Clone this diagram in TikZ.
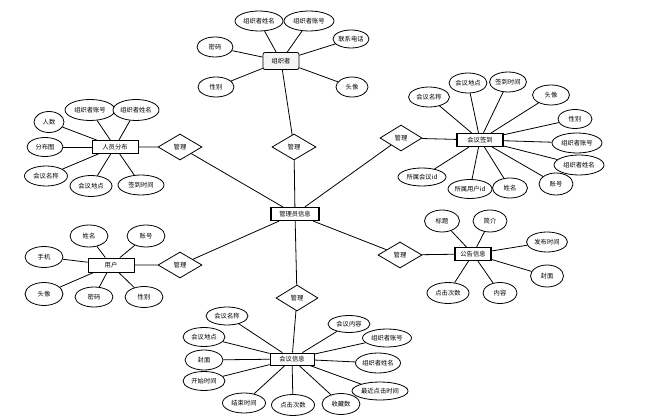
\documentclass[tikz,border=0pt]{standalone}
\usepackage{fontspec}
\newfontfamily\cjk{Noto Sans CJK SC}
\usetikzlibrary{shapes.geometric}
\begin{document}
\begin{tikzpicture}[x=1pt,y=-1pt,
  every node/.style={font=\cjk\fontsize{6.3}{7}\selectfont},
  attr/.style={ellipse, draw, line width=0.8pt, fill=white, inner sep=0pt, minimum height=20pt},
  ent/.style={rectangle, draw, line width=0.8pt, fill=white, inner sep=0pt, minimum height=13pt},
  entd/.style={ent, line width=1.1pt},
  rel/.style={diamond, draw, line width=0.8pt, fill=white, inner sep=0pt, aspect=1.65, minimum height=26pt},
  ln/.style={line width=0.8pt}]
\useasboundingbox (0,0) rectangle (666,419);
\fill[white] (0,0) rectangle (666,419);

% center
\node[entd, minimum width=48pt] (C) at (295,214) {管理员信息};

% top: 组织者
\node[ent, rounded corners=2pt, fill=gray!8, minimum width=36pt, minimum height=17pt] (Z) at (281,61) {组织者};
\node[rel, minimum width=44pt] (R1) at (294,147) {管理};
\node[attr, minimum width=48pt] (z1) at (259,21) {组织者姓名};
\node[attr, minimum width=50pt] (z2) at (309,21) {组织者账号};
\node[attr, minimum width=36pt, minimum height=18pt] (z3) at (351,39) {联系电话};
\node[attr, minimum width=32pt] (z4) at (352,87) {头像};
\node[attr, minimum width=36pt] (z5) at (215,47) {密码};
\node[attr, minimum width=36pt] (z6) at (216,87) {性别};
\foreach \a in {z1,z2,z3,z4,z5,z6} \draw[ln] (\a) -- (Z);
\draw[ln] (Z) -- (R1) -- (C);

% upper right: 会议签到
\node[entd, minimum width=46pt] (Q) at (480,140) {会议签到};
\node[rel, minimum width=42pt] (R2) at (401,138) {管理};
\node[attr, minimum width=41pt] (q1) at (429,97) {会议名称};
\node[attr, minimum width=38pt] (q2) at (468,83) {会议地点};
\node[attr, minimum width=37pt] (q3) at (508,82) {签到时间};
\node[attr, minimum width=37pt] (q4) at (551,95) {头像};
\node[attr, minimum width=34pt, minimum height=19pt] (q5) at (575,119) {性别};
\node[attr, minimum width=50pt] (q6) at (577,143) {组织者账号};
\node[attr, minimum width=50pt] (q7) at (579,165) {组织者姓名};
\node[attr, minimum width=34pt, minimum height=22pt] (q8) at (556,184) {账号};
\node[attr, minimum width=35pt] (q9) at (510,188) {姓名};
\node[attr, minimum width=44pt, minimum height=19pt] (q10) at (470,189) {所属用户id};
\node[attr, minimum width=48pt, minimum height=18pt] (q11) at (422,177) {所属会议id};
\foreach \a in {q1,q2,q3,q4,q5,q6,q7,q8,q9,q10,q11} \draw[ln] (\a) -- (Q);
\draw[ln] (Q) -- (R2) -- (C);

% upper left: 人员分布
\node[ent, minimum width=46pt] (P) at (115,147) {人员分布};
\node[rel, minimum width=44pt] (R3) at (180,147) {管理};
\node[attr, minimum width=30pt, minimum height=21pt] (p1) at (49,122) {人数};
\node[attr, minimum width=36pt, minimum height=19pt] (p2) at (45,147) {分布图};
\node[attr, minimum width=43pt] (p3) at (46,176) {会议名称};
\node[attr, minimum width=42pt, minimum height=21pt] (p4) at (91,186) {会议地点};
\node[attr, minimum width=46pt] (p5) at (141,185) {签到时间};
\node[attr, minimum width=50pt, minimum height=21pt] (p6) at (90,110) {组织者账号};
\node[attr, minimum width=46pt, minimum height=21pt] (p7) at (136,110) {组织者姓名};
\foreach \a in {p1,p2,p3,p4,p5,p6,p7} \draw[ln] (\a) -- (P);
\draw[ln] (P) -- (R3) -- (C);

% lower left: 用户
\node[ent, minimum width=46pt, minimum height=14pt] (U) at (111,265) {用户};
\node[rel, minimum width=44pt] (R4) at (180,265) {管理};
\node[attr, minimum width=38pt, minimum height=22pt] (u1) at (89,236) {姓名};
\node[attr, minimum width=38pt, minimum height=22pt] (u2) at (146,236) {账号};
\node[attr, minimum width=38pt, minimum height=21pt] (u3) at (44,257) {手机};
\node[attr, minimum width=38pt, minimum height=23pt] (u4) at (44,294) {头像};
\node[attr, minimum width=38pt] (u5) at (94,297) {密码};
\node[attr, minimum width=38pt, minimum height=21pt] (u6) at (144,297) {性别};
\foreach \a in {u1,u2,u3,u4,u5,u6} \draw[ln] (\a) -- (U);
\draw[ln] (U) -- (R4) -- (C);

% lower right: 公告信息
\node[entd, minimum width=36pt] (G) at (473,254) {公告信息};
\node[rel, minimum width=44pt] (R5) at (400,255) {管理};
\node[attr, minimum width=35pt, minimum height=22pt] (g1) at (442,221) {标题};
\node[attr, minimum width=34pt, minimum height=22pt] (g2) at (490,221) {简介};
\node[attr, minimum width=41pt] (g3) at (547,242) {发布时间};
\node[attr, minimum width=33pt, minimum height=22pt] (g4) at (547,276) {封面};
\node[attr, minimum width=42pt, minimum height=21pt] (g5) at (448,293) {点击次数};
\node[attr, minimum width=34pt, minimum height=21pt] (g6) at (500,293) {内容};
\foreach \a in {g1,g2,g3,g4,g5,g6} \draw[ln] (\a) -- (G);
\draw[ln] (G) -- (R5) -- (C);

% bottom: 会议信息
\node[ent, minimum width=44pt, minimum height=12pt] (M) at (292,359) {会议信息};
\node[rel, minimum width=42pt] (R6) at (297,298) {管理};
\node[attr, minimum width=42pt, minimum height=18pt] (m1) at (227,316) {会议名称};
\node[attr, minimum width=42pt, minimum height=19pt] (m2) at (204,337) {会议地点};
\node[attr, minimum width=38pt] (m3) at (204,360) {封面};
\node[attr, minimum width=42pt, minimum height=19pt] (m4) at (204,381) {开始时间};
\node[attr, minimum width=43pt] (m5) at (244,403) {结束时间};
\node[attr, minimum width=43pt, minimum height=21pt] (m6) at (293,405) {点击次数};
\node[attr, minimum width=38pt, minimum height=21pt] (m7) at (341,404) {收藏数};
\node[attr, minimum width=56pt, minimum height=18pt] (m8) at (380,391) {最近点击时间};
\node[attr, minimum width=45pt] (m9) at (378,363) {组织者姓名};
\node[attr, minimum width=49pt, minimum height=18pt] (m10) at (387,338) {组织者账号};
\node[attr, minimum width=42pt, minimum height=17pt] (m11) at (349,324) {会议内容};
\foreach \a in {m1,m2,m3,m4,m5,m6,m7,m8,m9,m10,m11} \draw[ln] (\a) -- (M);
\draw[ln] (M) -- (R6) -- (C);
\end{tikzpicture}
\end{document}
